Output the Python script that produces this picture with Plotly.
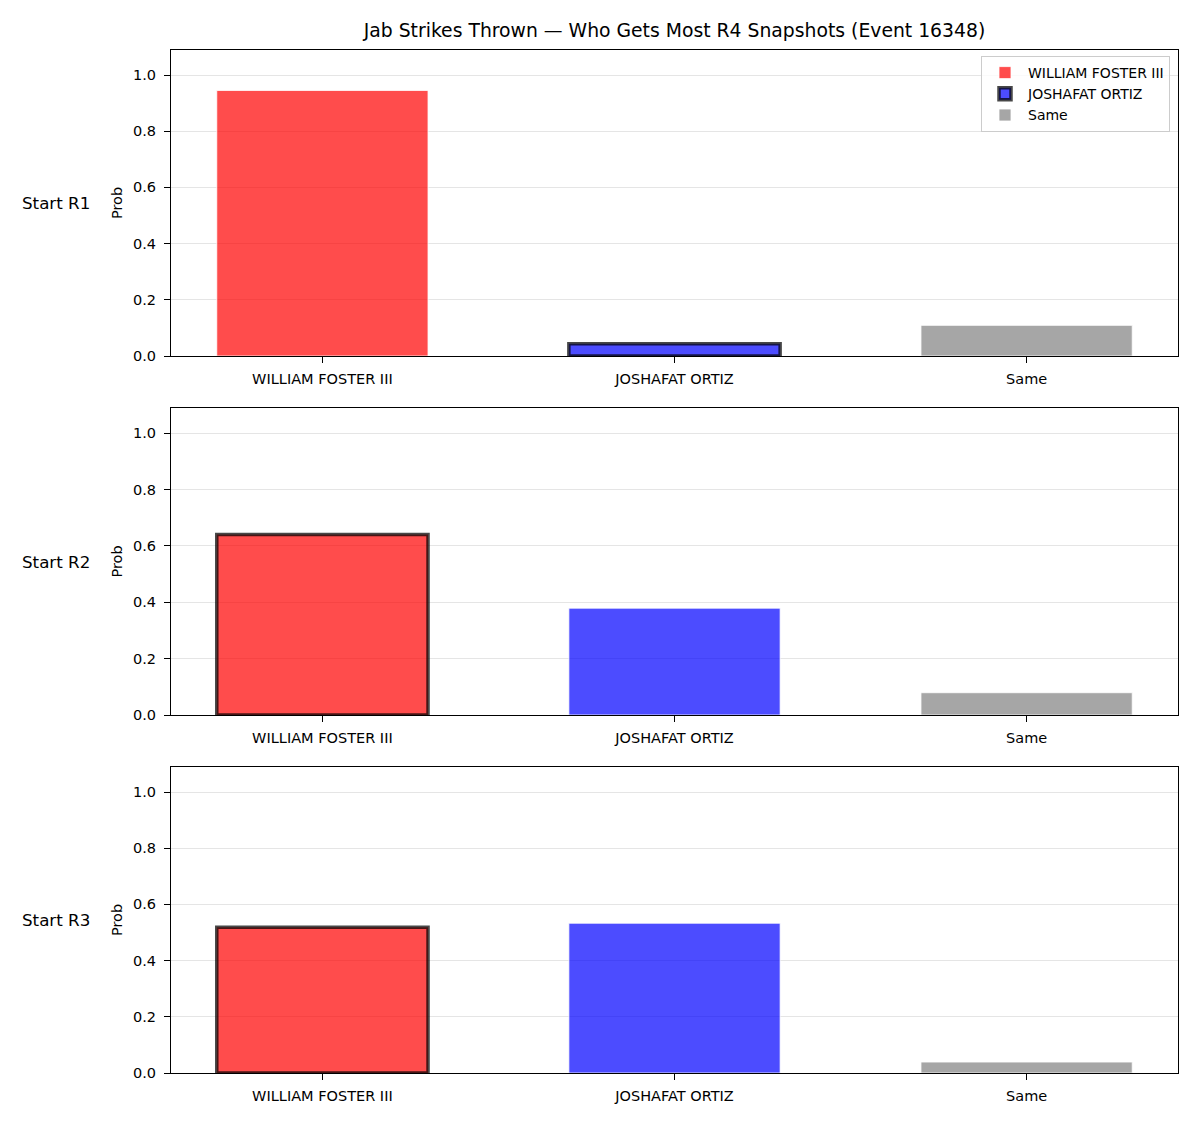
import plotly.graph_objects as go

# ---- data ----
categories = ["WILLIAM FOSTER III", "JOSHAFAT ORTIZ", "Same"]
row_labels = ["Start R1", "Start R2", "Start R3"]
probs_r1 = [0.945, 0.044, 0.109]
probs_r2 = [0.640, 0.379, 0.079]
probs_r3 = [0.519, 0.533, 0.039]
highlighted = ["JOSHAFAT ORTIZ", "WILLIAM FOSTER III", "WILLIAM FOSTER III"]
y_ticks = [0.0, 0.2, 0.4, 0.6, 0.8, 1.0]
title_text = "Jab Strikes Thrown — Who Gets Most R4 Snapshots (Event 16348)"

all_probs = [probs_r1, probs_r2, probs_r3]

# ---- styles ----
colors = ["rgba(255,0,0,0.7)", "rgba(0,0,255,0.7)", "rgba(128,128,128,0.7)"]
W, H = 1200, 1125
FONT = "DejaVu Sans"
x_dom = [171 / W, 1178 / W]
y_doms = [
    [1 - 356 / H, 1 - 50 / H],
    [1 - 715 / H, 1 - 408 / H],
    [1 - 1073 / H, 1 - 767 / H],
]

fig = go.Figure()
for r, probs in enumerate(all_probs):
    xa = "x" if r == 0 else f"x{r+1}"
    ya = "y" if r == 0 else f"y{r+1}"
    for i, cat in enumerate(categories):
        hl = cat == highlighted[r]
        fig.add_trace(go.Bar(
            x=[cat], y=[probs[i]], name=cat,
            xaxis=xa, yaxis=ya, width=0.6,
            marker=dict(color=colors[i],
                        line=dict(color="rgba(0,0,0,0.72)" if hl else "rgba(255,255,255,0.8)",
                                  width=3.5 if hl else 1)),
            showlegend=(r == 0), legendgroup=cat,
        ))

layout = dict(
    width=W, height=H,
    margin=dict(l=0, r=0, t=0, b=0, autoexpand=False),
    paper_bgcolor="white", plot_bgcolor="white",
    barmode="overlay",
    font=dict(family=FONT, size=14, color="black"),
    title=dict(text=title_text, x=674.5 / W, xanchor="center", y=1 - 30 / H, yanchor="middle",
               font=dict(family=FONT, size=18.8, color="black")),
    legend=dict(x=1170 / W, xanchor="right", y=1 - 56 / H, yanchor="top",
                bgcolor="rgba(255,255,255,0.8)", bordercolor="#cccccc", borderwidth=1,
                font=dict(family=FONT, size=14), tracegroupgap=0, itemwidth=36),
    annotations=[],
)
for r in range(3):
    sx = "" if r == 0 else str(r + 1)
    layout[f"xaxis{sx}"] = dict(
        domain=x_dom, anchor=f"y{sx}", type="category",
        categoryorder="array", categoryarray=categories,
        range=[-0.43, 2.43], showgrid=False, showline=True, linecolor="black", linewidth=1.2,
        mirror=True, ticks="outside", ticklen=6, tickwidth=1.2, tickcolor="black",
        tickfont=dict(family=FONT, size=14.5), zeroline=False, automargin=False,
        ticklabelstandoff=3,
    )
    layout[f"yaxis{sx}"] = dict(
        domain=y_doms[r], anchor=f"x{sx}",
        range=[0, 1.089], tickvals=y_ticks, ticktext=[f"{v:.1f}" for v in y_ticks],
        showgrid=True, gridcolor="rgba(0,0,0,0.1)", gridwidth=1,
        showline=True, linecolor="black", linewidth=1.2, mirror=True,
        ticks="outside", ticklen=6, tickwidth=1.2, tickcolor="black",
        tickfont=dict(family=FONT, size=14.5), zeroline=False, automargin=False,
        ticklabelstandoff=5,
        title=dict(text="Prob", font=dict(family=FONT, size=14.5), standoff=6),
    )
    ymid = (y_doms[r][0] + y_doms[r][1]) / 2
    layout["annotations"].append(dict(
        text=row_labels[r], xref="paper", yref="paper", x=92 / W, xanchor="right",
        y=ymid, yanchor="middle", showarrow=False,
        font=dict(family=FONT, size=16.7, color="black"),
    ))

fig.update_layout(**layout)
fig.write_html("out.html")
